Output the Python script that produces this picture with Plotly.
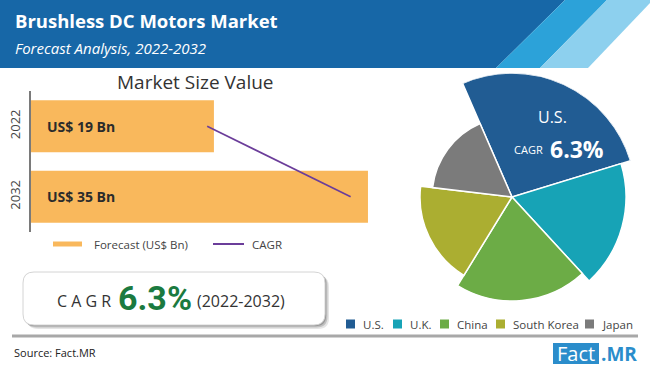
import plotly.graph_objects as go

# ---------------- data ----------------
years = ["2022", "2032"]
market_value_bn = [19, 35]
cagr_line_x = [18.3, 33.2]          # CAGR line end points (US$ Bn scale)
cagr_pct = 6.3

regions = ["U.S.", "U.K.", "China", "South Korea", "Japan"]
region_share = [26.8, 17.9, 20.6, 18.1, 16.6]   # angular share (%)
region_radius = [124, 114, 104, 92, 80]         # relative radius
region_colors = ["#215c93", "#17a3b6", "#6cac46", "#abae31", "#7b7b7b"]

W, H = 650, 371


def px(x):
    return x / W


def py(y):
    return 1 - y / H


fig = go.Figure()

# ---------------- bar chart ----------------
fig.add_trace(go.Bar(
    x=market_value_bn, y=years, orientation="h",
    marker=dict(color="#f9b85c", line=dict(width=0)),
    name="Forecast (US$ Bn)", showlegend=False, hoverinfo="skip",
    xaxis="x", yaxis="y",
))
fig.add_trace(go.Scatter(
    x=cagr_line_x, y=years, mode="lines",
    line=dict(color="#6b3d9a", width=1.6),
    name="CAGR", showlegend=False, hoverinfo="skip",
    xaxis="x", yaxis="y",
))

# ---------------- variable radius pie (barpolar) ----------------
start = -23.5
acc = start
for name, share, rad, col in zip(regions, region_share, region_radius, region_colors):
    w = share * 3.6
    fig.add_trace(go.Barpolar(
        r=[rad], theta=[acc + w / 2], width=[w],
        marker=dict(color=col, line=dict(color="white", width=1.5)),
        name=name, showlegend=False, hoverinfo="skip",
    ))
    acc += w

shapes = []
annotations = []


def poly(points, color, layer="below"):
    path = "M " + " L ".join(f"{px(x)},{py(y)}" for x, y in points) + " Z"
    return dict(type="path", path=path, xref="paper", yref="paper",
                fillcolor=color, line=dict(width=0), layer=layer)

# header band
shapes.append(poly([(0, 0), (565, 0), (496, 68), (0, 68)], "#1767a7"))
shapes.append(poly([(565, 0), (607, 0), (540, 68), (496, 68)], "#2ca2d9"))
shapes.append(poly([(607, 0), (650, 0), (650, 3), (588, 68), (540, 68)], "#8dd0ee"))


def rrect(x0, y0, x1, y1, r):
    pts = [
        f"M {px(x0 + r)},{py(y0)}",
        f"L {px(x1 - r)},{py(y0)}",
        f"Q {px(x1)},{py(y0)} {px(x1)},{py(y0 + r)}",
        f"L {px(x1)},{py(y1 - r)}",
        f"Q {px(x1)},{py(y1)} {px(x1 - r)},{py(y1)}",
        f"L {px(x0 + r)},{py(y1)}",
        f"Q {px(x0)},{py(y1)} {px(x0)},{py(y1 - r)}",
        f"L {px(x0)},{py(y0 + r)}",
        f"Q {px(x0)},{py(y0)} {px(x0 + r)},{py(y0)}",
        "Z",
    ]
    return " ".join(pts)

# CAGR box with shadow
for off, a in [(4, 0.10), (2.5, 0.16), (1.2, 0.2)]:
    shapes.append(dict(type="path", path=rrect(23 + off, 272 + off, 325 + off, 325 + off, 11),
                       xref="paper", yref="paper", fillcolor=f"rgba(0,0,0,{a})",
                       line=dict(width=0), layer="below"))
shapes.append(dict(type="path", path=rrect(23, 272, 325, 325, 11),
                   xref="paper", yref="paper", fillcolor="white",
                   line=dict(color="#d4d4d4", width=1), layer="below"))

# separator line
shapes.append(dict(type="line", xref="paper", yref="paper",
                   x0=px(12), x1=px(638), y0=py(336), y1=py(336),
                   line=dict(color="#a8a8a8", width=3)))

# bar chart legend
shapes.append(dict(type="rect", xref="paper", yref="paper",
                   x0=px(53), x1=px(82), y0=py(241.5), y1=py(246.5),
                   fillcolor="#f9b85c", line=dict(width=0)))
shapes.append(dict(type="line", xref="paper", yref="paper",
                   x0=px(213), x1=px(244), y0=py(244), y1=py(244),
                   line=dict(color="#6b3d9a", width=2)))
annotations.append(dict(text="Forecast (US$ Bn)", x=px(92), y=py(244), xref="paper", yref="paper",
                        xanchor="left", yanchor="middle", showarrow=False,
                        font=dict(family="Open Sans", size=11.5, color="#444")))
annotations.append(dict(text="CAGR", x=px(250), y=py(244), xref="paper", yref="paper",
                        xanchor="left", yanchor="middle", showarrow=False,
                        font=dict(family="Open Sans", size=11.5, color="#444")))

# pie legend
legend_x = [346, 393, 440, 496, 585]
for lx, name, col in zip(legend_x, regions, region_colors):
    shapes.append(dict(type="rect", xref="paper", yref="paper",
                       x0=px(lx), x1=px(lx + 9), y0=py(319.5), y1=py(328.5),
                       fillcolor=col, line=dict(width=0)))
    annotations.append(dict(text=name, x=px(lx + 15), y=py(324), xref="paper", yref="paper",
                            xanchor="left", yanchor="middle", showarrow=False,
                            font=dict(family="Open Sans", size=11.5, color="#444")))

# Fact.MR logo
shapes.append(dict(type="rect", xref="paper", yref="paper",
                   x0=px(553), x1=px(599), y0=py(343), y1=py(364),
                   fillcolor="#2b8dcb", line=dict(width=0)))
annotations.append(dict(text="Fact", x=px(576), y=py(353.5), xref="paper", yref="paper",
                        xanchor="center", yanchor="middle", showarrow=False,
                        font=dict(family="Open Sans", size=20, color="white")))
annotations.append(dict(text="<b>.MR</b>", x=px(599), y=py(353.5), xref="paper", yref="paper",
                        xanchor="left", yanchor="middle", showarrow=False,
                        font=dict(family="Open Sans", size=19, color="#2b8dcb")))

# texts
annotations += [
    dict(text="<b>Brushless DC Motors Market</b>", x=px(13), y=py(21), xref="paper", yref="paper",
         xanchor="left", yanchor="middle", showarrow=False,
         font=dict(family="Open Sans", size=18.5, color="white")),
    dict(text="<i>Forecast Analysis, 2022-2032</i>", x=px(13), y=py(48), xref="paper", yref="paper",
         xanchor="left", yanchor="middle", showarrow=False,
         font=dict(family="Open Sans", size=15, color="white")),
    dict(text="Market Size Value", x=px(195), y=py(82), xref="paper", yref="paper",
         xanchor="center", yanchor="middle", showarrow=False,
         font=dict(family="Open Sans", size=19, color="#333")),
    dict(text="C A G R", x=px(113), y=py(301), xref="paper", yref="paper",
         xanchor="right", yanchor="middle", showarrow=False,
         font=dict(family="Open Sans", size=16, color="#333")),
    dict(text=f"<b>{cagr_pct}%</b>", x=px(116), y=py(298), xref="paper", yref="paper",
         xanchor="left", yanchor="middle", showarrow=False,
         font=dict(family="Liberation Sans Narrow, Roboto", size=34, color="#1b7a40")),
    dict(text="(2022-2032)", x=px(195), y=py(301), xref="paper", yref="paper",
         xanchor="left", yanchor="middle", showarrow=False,
         font=dict(family="Open Sans", size=16, color="#333")),
    dict(text="Source: Fact.MR", x=px(12), y=py(352), xref="paper", yref="paper",
         xanchor="left", yanchor="middle", showarrow=False,
         font=dict(family="Open Sans", size=11, color="#222")),
    dict(text="U.S.", x=px(552), y=py(117), xref="paper", yref="paper",
         xanchor="center", yanchor="middle", showarrow=False,
         font=dict(family="Open Sans", size=16, color="white")),
    dict(text="CAGR", x=px(545), y=py(150), xref="paper", yref="paper",
         xanchor="right", yanchor="middle", showarrow=False,
         font=dict(family="Open Sans", size=11, color="white")),
    dict(text=f"<b>{cagr_pct}%</b>", x=px(548), y=py(149), xref="paper", yref="paper",
         xanchor="left", yanchor="middle", showarrow=False,
         font=dict(family="Open Sans", size=23, color="white")),
]

# bar value labels (category positions on the y axis)
for i, v in enumerate(market_value_bn):
    annotations.append(dict(text=f"<b>US$ {v} Bn</b>", x=0, y=i, xref="x", yref="y",
                            xanchor="left", yanchor="middle", xshift=14, showarrow=False,
                            font=dict(family="Open Sans", size=14, color="#2b2b2b")))

fig.update_layout(
    width=W, height=H,
    margin=dict(l=0, r=0, t=0, b=0, pad=0, autoexpand=False),
    paper_bgcolor="white", plot_bgcolor="rgba(0,0,0,0)",
    showlegend=False,
    bargap=0.26,
    xaxis=dict(domain=[px(31), px(380)], range=[0, 36.25], visible=False, fixedrange=True),
    yaxis=dict(domain=[py(232), py(91)], type="category", categoryorder="array",
               categoryarray=years, range=[1.5, -0.5], autorange=False,
               showline=True, linecolor="#7a7a7a", linewidth=2,
               showgrid=False, zeroline=False, ticks="", tickangle=-90,
               ticklabelstandoff=4, automargin=False,
               tickfont=dict(family="Open Sans", size=13, color="#444")),
    polar=dict(
        domain=dict(x=[px(388), px(636)], y=[py(321), py(73)]),
        bgcolor="rgba(0,0,0,0)",
        bargap=0,
        radialaxis=dict(range=[0, 124], visible=False, showgrid=False),
        angularaxis=dict(rotation=90, direction="clockwise", visible=False, showgrid=False),
    ),
    shapes=shapes,
    annotations=annotations,
)

fig.write_html(
    "out.html",
    config={"displayModeBar": False},
    post_script="document.body.style.margin='0px';document.body.style.overflow='hidden';",
)
